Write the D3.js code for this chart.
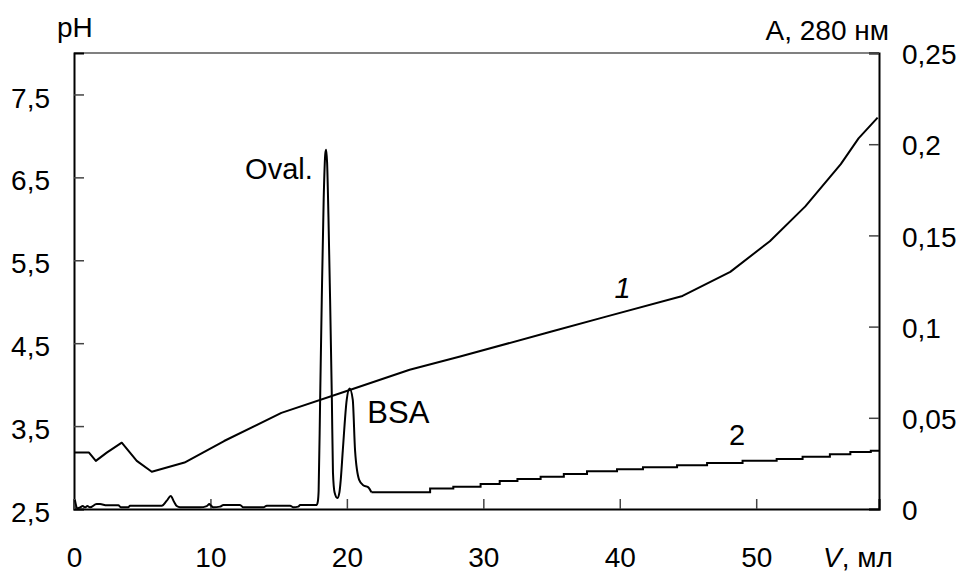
<!DOCTYPE html>
<html>
<head>
<meta charset="utf-8">
<script src="https://cdn.jsdelivr.net/npm/d3@7"></script>
<style>
  html, body { margin: 0; padding: 0; background: #fff; overflow: hidden; }
  #result { width: 962px; height: 575px; }
  svg { display: block; }
  svg text { font-family: "Liberation Sans", Arial, sans-serif; fill: #000; }
</style>
</head>
<body>
<div id="result"></div>
<script>
const width = 962;
const height = 575;
const margin = { top: 53, bottom: 66, left: 74, right: 83 };
const innerWidth = width - margin.left - margin.right;
const innerHeight = height - margin.top - margin.bottom;
const fontSize = 28;

// curve 1: pH gradient (left axis)
const phV = [0, 1.1, 1.6, 2.4, 3.5, 4.6, 5.7, 8.1, 11, 15.2, 20.1, 24.6, 28.3, 35, 39, 44.6, 48.1, 51, 53.6, 56.2, 57.5, 58.9];
const phVal = [3.18, 3.18, 3.08, 3.18, 3.30, 3.08, 2.95, 3.06, 3.32, 3.66, 3.93, 4.18, 4.34, 4.64, 4.82, 5.07, 5.36, 5.73, 6.15, 6.66, 6.97, 7.22];

// curve 2: absorbance at 280 nm (right axis), baseline and the two peaks
const absV = [0.07, 0.24, 0.44, 0.64, 0.81, 0.98, 1.17, 1.66, 1.91, 2.4, 3.25, 3.45, 3.98, 4.1, 6.43, 6.8, 7.09, 7.33, 7.53, 7.77,
  9.24, 9.73, 9.92, 10.02, 10.21, 10.7, 10.95, 12.17, 12.41, 13.88, 14.13, 15.84, 16.08, 16.44, 16.57, 17.79,
  17.87, 17.93, 18.04, 18.16, 18.3, 18.42, 18.48, 18.55, 18.65, 18.77, 18.9, 18.98, 19.1, 19.3,
  19.45, 19.55, 19.7, 19.99, 20.2, 20.43, 20.6, 20.9, 21.2, 21.55, 21.8];
const absVal = [0.0049, 0.0004, 0.0009, 0.0016, 0.0009, 0.0016, 0.0009, 0.0027, 0.0027, 0.002, 0.002, 0.0009, 0.0009, 0.0018, 0.0018, 0.0046, 0.0071, 0.004, 0.0016, 0.0009,
  0.0009, 0.0016, 0.0027, 0.002, 0.0009, 0.0013, 0.0022, 0.0022, 0.0009, 0.0009, 0.0018, 0.0018, 0.0009, 0.0013, 0.0022, 0.0022,
  0.004, 0.010, 0.060, 0.115, 0.170, 0.195, 0.197, 0.190, 0.160, 0.115, 0.060, 0.020, 0.009, 0.006,
  0.009, 0.016, 0.032, 0.060, 0.066, 0.060, 0.032, 0.016, 0.013, 0.012, 0.0092];

// stepped tail of curve 2
const stepV = [21.8, 26.1, 27.8, 29.8, 31.2, 32.5, 34.2, 35.9, 37.6, 39.8, 41.7, 44.2, 46.4, 49.0, 51.5, 53.4, 55.4, 56.9, 58.4, 59];
const stepVal = [0.0092, 0.0113, 0.0122, 0.0137, 0.0154, 0.0164, 0.0177, 0.0192, 0.0207, 0.0218, 0.0229, 0.0240, 0.0252, 0.0265, 0.0274, 0.0287, 0.0300, 0.0312, 0.0320, 0.0320];

// ticks
const vTicks = [0, 10, 20, 30, 40, 50];
const phTicks = [2.5, 3.5, 4.5, 5.5, 6.5, 7.5];
const absTicks = [0, 0.05, 0.1, 0.15, 0.2, 0.25];

// text labels placed in data coordinates
const notes = [
  { text: 'Oval.', v: 17.5, axis: 'abs', y: 0.181, anchor: 'end', italic: false, size: 29 },
  { text: 'BSA', v: 21.5, axis: 'abs', y: 0.047, anchor: 'start', italic: false, size: 31 },
  { text: '1', v: 40.2, axis: 'ph', y: 5.04, anchor: 'middle', italic: true, size: 29 },
  { text: '2', v: 48.6, axis: 'abs', y: 0.035, anchor: 'middle', italic: false, size: 29 }
];

const svg = d3.select('#result')
  .append('svg')
  .attr('width', width)
  .attr('height', height);

const g = svg.append('g')
  .attr('transform', `translate(${margin.left}, ${margin.top})`);

const xScale = d3.scaleLinear()
  .domain([0, 59])
  .range([0, innerWidth]);

const phScale = d3.scaleLinear()
  .domain([2.5, 8.0])
  .range([innerHeight, 0]);

const absScale = d3.scaleLinear()
  .domain([0, 0.25])
  .range([innerHeight, 0]);

const comma = d => String(+d.toFixed(2)).replace('.', ',');

// top border, grey
g.append('line')
  .attr('x1', 0).attr('x2', innerWidth)
  .attr('y1', 0).attr('y2', 0)
  .attr('stroke', '#808080')
  .attr('stroke-width', 2);

// left axis (pH)
const leftAxis = g.append('g')
  .call(d3.axisLeft(phScale).tickValues(phTicks).tickSize(-10).tickPadding(24).tickFormat(comma));

// right axis (A)
const rightAxis = g.append('g')
  .attr('transform', `translate(${innerWidth}, 0)`)
  .call(d3.axisRight(absScale).tickValues(absTicks).tickSize(-10).tickPadding(23).tickFormat(comma));

// bottom axis (V)
const bottomAxis = g.append('g')
  .attr('transform', `translate(0, ${innerHeight})`)
  .call(d3.axisBottom(xScale).tickValues(vTicks).tickSize(-10).tickPadding(38).tickFormat(d3.format('d')));

for (const ax of [leftAxis, rightAxis, bottomAxis]) {
  ax.attr('font-size', fontSize)
    .attr('font-family', '"Liberation Sans", Arial, sans-serif');
  ax.select('.domain')
    .attr('stroke', '#000')
    .attr('stroke-width', 2);
  ax.selectAll('.tick line')
    .attr('stroke', '#444')
    .attr('stroke-width', 1.5);
  ax.selectAll('.tick text')
    .attr('fill', '#000');
}
leftAxis.selectAll('.tick text').attr('dy', '0.45em');
rightAxis.selectAll('.tick text').attr('dy', '0.38em');

// line generators
const phLine = d3.line()
  .x(d => xScale(d[0]))
  .y(d => phScale(d[1]));

const absLine = d3.line()
  .x(d => xScale(d[0]))
  .y(d => absScale(d[1]))
  .curve(d3.curveMonotoneX);

const stepLine = d3.line()
  .x(d => xScale(d[0]))
  .y(d => absScale(d[1]))
  .curve(d3.curveStepAfter);

g.append('path')
  .datum(d3.zip(phV, phVal))
  .attr('fill', 'none')
  .attr('stroke', '#000')
  .attr('stroke-width', 2)
  .attr('stroke-linejoin', 'round')
  .attr('d', phLine);

g.append('path')
  .datum(d3.zip(absV, absVal))
  .attr('fill', 'none')
  .attr('stroke', '#000')
  .attr('stroke-width', 2)
  .attr('stroke-linejoin', 'round')
  .attr('d', absLine);

g.append('path')
  .datum(d3.zip(stepV, stepVal))
  .attr('fill', 'none')
  .attr('stroke', '#000')
  .attr('stroke-width', 2)
  .attr('d', stepLine);

// annotations
g.selectAll('.note')
  .data(notes)
  .enter()
  .append('text')
    .attr('class', 'note')
    .attr('x', d => xScale(d.v))
    .attr('y', d => d.axis === 'ph' ? phScale(d.y) : absScale(d.y))
    .attr('text-anchor', d => d.anchor)
    .attr('font-size', d => d.size)
    .attr('font-style', d => d.italic ? 'italic' : 'normal')
    .text(d => d.text);

// axis titles
svg.append('text')
  .attr('x', 57)
  .attr('y', 37)
  .attr('font-size', fontSize)
  .text('pH');

svg.append('text')
  .attr('x', 889)
  .attr('y', 40)
  .attr('text-anchor', 'end')
  .attr('font-size', fontSize)
  .text('A, 280 нм');

const vTitle = svg.append('text')
  .attr('x', 823)
  .attr('y', 567)
  .attr('font-size', fontSize);
vTitle.append('tspan').attr('font-style', 'italic').text('V');
vTitle.append('tspan').text(', мл');
</script>
</body>
</html>
